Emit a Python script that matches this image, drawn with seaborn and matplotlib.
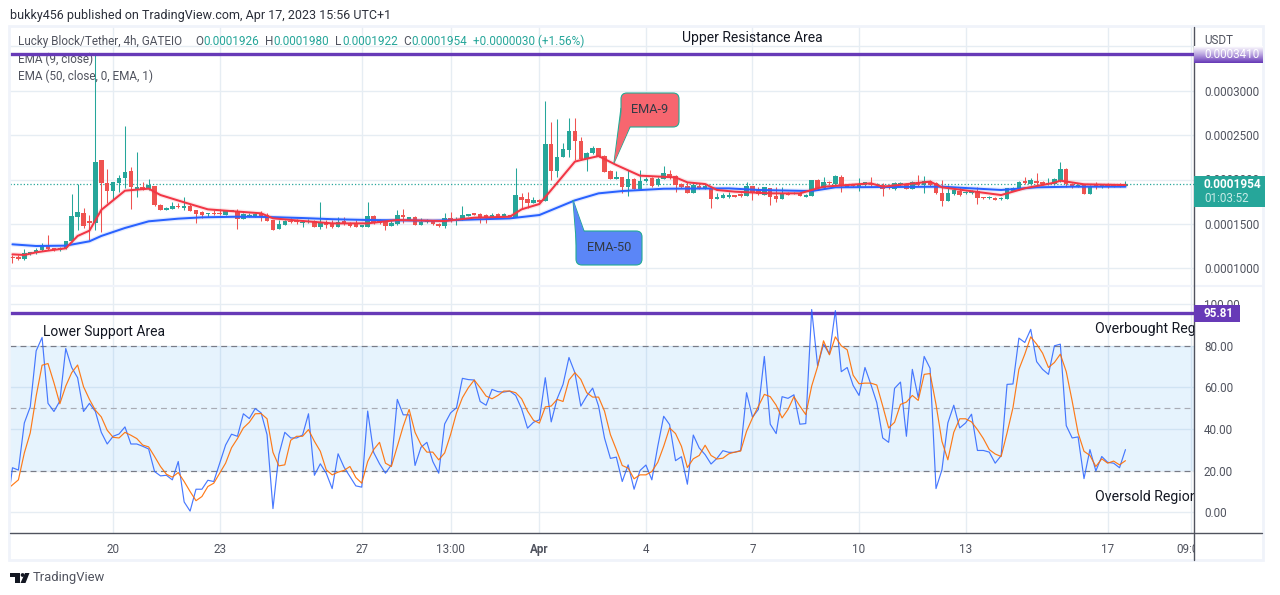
import numpy as np
import pandas as pd
import seaborn as sns
import matplotlib
matplotlib.use("Agg")
import matplotlib.pyplot as plt
from matplotlib.colors import LinearSegmentedColormap
from matplotlib.patches import FancyBboxPatch, Polygon, Rectangle, Circle
from matplotlib.transforms import Bbox

# candle values, in units of 0.0001 USDT
opens = [1.123,1.112,1.108,1.161,1.169,1.206,1.251,1.225,1.206,1.225,
         1.304,1.581,1.619,1.533,1.514,2.220,1.964,1.874,1.964,2.017,
         2.096,1.889,1.912,1.897,1.927,1.713,1.660,1.672,1.702,1.683,
         1.702,1.657,1.634,1.608,1.619,1.619,1.604,1.645,1.642,1.559,
         1.581,1.589,1.619,1.604,1.544,1.446,1.491,1.529,1.529,1.510,
         1.518,1.536,1.469,1.514,1.514,1.469,1.532,1.499,1.495,1.469,
         1.469,1.589,1.536,1.521,1.480,1.495,1.596,1.547,1.581,1.491,
         1.521,1.529,1.499,1.476,1.562,1.536,1.551,1.592,1.611,1.608,
         1.600,1.581,1.608,1.581,1.600,1.581,1.803,1.780,1.731,1.769,
         1.758,2.400,2.096,2.249,2.332,2.546,2.437,2.234,2.294,2.355,
         2.264,2.096,2.009,2.024,1.919,2.009,1.897,1.979,2.020,1.934,
         2.009,2.058,2.039,1.949,1.927,1.852,1.927,1.908,1.900,1.784,
         1.792,1.807,1.825,1.837,1.818,1.927,1.882,1.825,1.901,1.818,
         1.780,1.852,1.837,1.852,1.807,1.814,1.994,1.901,1.976,1.946,
         2.032,1.919,1.934,1.912,1.934,1.949,1.938,1.938,1.919,1.889,
         1.938,1.946,1.897,1.972,1.938,1.987,1.964,1.852,1.758,1.837,
         1.874,1.844,1.844,1.871,1.799,1.788,1.795,1.777,1.780,1.874,
         1.889,1.976,1.946,1.987,1.976,1.946,1.949,1.987,2.118,1.949,
         1.919,1.938,1.840,1.938,1.912,1.946,1.946,1.942,1.926]
highs = [1.150,1.150,1.214,1.180,1.225,1.281,1.375,1.225,1.236,1.311,
         1.837,1.946,1.675,1.600,3.410,2.220,2.114,1.972,2.051,2.603,
         2.145,2.310,1.972,2.006,1.927,1.724,1.694,1.750,1.739,1.799,
         1.724,1.657,1.649,1.627,1.657,1.664,1.657,1.657,1.664,1.619,
         1.619,1.627,1.642,1.619,1.544,1.544,1.544,1.563,1.551,1.544,
         1.551,1.544,1.747,1.544,1.544,1.581,1.581,1.525,1.544,1.480,
         1.746,1.600,1.551,1.544,1.544,1.656,1.664,1.581,1.589,1.562,
         1.551,1.544,1.514,1.626,1.634,1.581,1.701,1.611,1.611,1.619,
         1.611,1.626,1.619,1.619,1.604,2.126,1.844,1.863,1.807,1.780,
         2.884,2.651,2.677,2.407,2.689,2.689,2.482,2.306,2.377,2.355,
         2.276,2.107,2.099,2.032,2.107,2.013,2.107,2.032,2.032,2.032,
         2.152,2.107,2.050,1.957,1.968,1.975,1.957,1.945,1.912,1.844,
         1.844,1.863,1.825,1.844,1.976,1.927,1.912,1.919,1.908,1.912,
         1.912,1.855,1.859,1.856,1.833,1.994,2.006,2.032,1.980,2.047,
         2.051,1.946,1.946,2.013,1.972,2.032,1.957,1.957,1.934,1.972,
         1.972,1.957,1.983,2.051,2.039,1.994,1.972,1.994,1.938,1.919,
         1.919,1.874,1.882,1.919,1.807,1.814,1.803,1.799,1.901,1.915,
         1.987,2.032,2.013,2.077,1.983,2.013,2.013,2.197,2.125,1.957,
         1.945,1.946,1.938,1.976,1.949,1.957,1.953,1.957,1.980]
lows = [1.063,1.093,1.093,1.150,1.161,1.199,1.206,1.199,1.199,1.214,
        1.296,1.431,1.450,1.319,1.431,1.413,1.739,1.769,1.863,1.901,
        1.672,1.807,1.882,1.882,1.702,1.657,1.657,1.664,1.675,1.657,
        1.642,1.506,1.563,1.574,1.600,1.600,1.597,1.640,1.446,1.551,
        1.574,1.581,1.536,1.529,1.431,1.439,1.484,1.514,1.499,1.469,
        1.510,1.461,1.446,1.458,1.450,1.469,1.487,1.461,1.461,1.469,
        1.469,1.499,1.499,1.431,1.476,1.487,1.506,1.544,1.484,1.487,
        1.506,1.484,1.461,1.454,1.521,1.491,1.544,1.589,1.604,1.514,
        1.514,1.574,1.574,1.577,1.577,1.581,1.671,1.675,1.731,1.731,
        1.758,1.994,2.032,2.249,2.257,2.219,2.219,2.096,2.287,2.249,
        2.084,2.002,2.002,1.852,1.818,1.889,1.889,1.972,1.919,1.927,
        2.002,2.009,1.863,1.900,1.844,1.844,1.897,1.897,1.683,1.776,
        1.788,1.795,1.807,1.807,1.814,1.769,1.825,1.822,1.713,1.750,
        1.777,1.825,1.833,1.814,1.803,1.814,1.889,1.889,1.950,1.938,
        1.863,1.912,1.919,1.874,1.927,1.919,1.930,1.814,1.893,1.882,
        1.930,1.889,1.889,1.927,1.844,1.927,1.837,1.702,1.754,1.829,
        1.818,1.837,1.837,1.724,1.785,1.781,1.766,1.770,1.777,1.866,
        1.882,1.949,1.938,1.938,1.938,1.938,1.938,1.976,1.912,1.904,
        1.912,1.837,1.837,1.897,1.905,1.904,1.912,1.912,1.922]
closes = [1.112,1.108,1.169,1.180,1.206,1.251,1.217,1.206,1.229,1.304,
          1.589,1.634,1.476,1.514,2.197,1.964,1.874,1.972,2.017,2.084,
          1.912,1.919,1.897,1.938,1.717,1.660,1.679,1.702,1.687,1.702,
          1.649,1.612,1.604,1.623,1.612,1.612,1.645,1.649,1.559,1.612,
          1.600,1.612,1.589,1.536,1.431,1.499,1.533,1.521,1.521,1.525,
          1.533,1.469,1.506,1.484,1.469,1.525,1.499,1.480,1.469,1.480,
          1.589,1.506,1.506,1.480,1.506,1.596,1.574,1.577,1.491,1.525,
          1.536,1.495,1.476,1.562,1.529,1.551,1.596,1.611,1.604,1.562,
          1.581,1.604,1.581,1.608,1.581,1.825,1.769,1.735,1.765,1.750,
          2.400,2.096,2.249,2.340,2.546,2.433,2.227,2.294,2.351,2.257,
          2.088,2.009,2.032,1.919,2.002,1.897,1.979,2.002,1.927,2.009,
          2.069,2.024,1.934,1.919,1.852,1.934,1.904,1.927,1.784,1.807,
          1.822,1.818,1.807,1.814,1.927,1.844,1.837,1.912,1.807,1.784,
          1.833,1.829,1.852,1.818,1.825,1.994,1.901,1.976,1.957,2.039,
          1.927,1.938,1.927,1.938,1.972,1.938,1.946,1.889,1.901,1.957,
          1.964,1.897,1.976,1.938,1.979,1.938,1.844,1.758,1.844,1.882,
          1.825,1.863,1.871,1.788,1.792,1.807,1.773,1.792,1.901,1.901,
          1.976,1.964,1.994,1.964,1.949,1.964,2.002,2.118,1.946,1.919,
          1.938,1.840,1.927,1.912,1.938,1.919,1.919,1.919,1.954]

ema9_bars = [0,2,4,6,9,11,13,15,19,23,25,29,33,36,42,44,49,54,60,65,73,78,84,86,89,91,95,96,99,
             102,106,112,114,117,119,122,128,133,137,141,145,147,155,157,167,171,176,177,181,188]
ema9_vals = [1.157,1.150,1.180,1.199,1.225,1.364,1.424,1.657,1.874,1.897,1.825,1.743,1.664,1.649,
             1.619,1.563,1.533,1.506,1.506,1.544,1.532,1.570,1.581,1.664,1.724,1.882,2.201,2.219,
             2.264,2.163,2.043,2.024,1.968,1.949,1.882,1.863,1.844,1.844,1.919,1.938,1.957,1.919,
             1.976,1.912,1.825,1.901,1.964,1.987,1.946,1.938]
ema50_bars = [0,4,9,13,15,19,23,28,32,38,43,49,54,60,71,84,89,95,99,103,110,121,126,135,139,157,167,173,179,188]
ema50_vals = [1.270,1.251,1.255,1.304,1.364,1.454,1.529,1.559,1.574,1.581,1.578,1.566,1.553,1.544,
              1.536,1.562,1.600,1.765,1.844,1.870,1.896,1.900,1.882,1.870,1.912,1.919,1.882,1.912,
              1.919,1.919]

# stochastic, the first point sits just left of the visible pane
stoch_k = [0,21.4,20.3,42.9,50.6,77.5,83.9,52.3,48.4,53.4,78.6,69.5,64.6,48.4,52.3,48.4,38.4,32.8,36.5,37.6,41,
           32.8,32.8,31.7,30.4,19.6,17.5,17.8,15.6,24.4,5,0.6,11.1,11.1,15.4,14.8,23.6,32.3,37.5,36.5,47.3,
           45,49.8,47.7,37.3,1.8,27.7,38.4,35.7,35.7,37.1,47.3,17.8,23.3,18.8,11.4,28.1,21.7,17.2,12.7,12.1,
           48.6,28.8,23.3,18.8,22.8,54.2,46.8,46.8,22.5,31.2,33.6,24.4,
           18.8,42.4,47.7,50.2,64.3,63.7,63.5,53.2,51.4,59,57.9,57.7,58.2,56.1,49.7,40.4,43.2,44.4,64.6,
           43.4,54.5,61.4,74.3,67,51,55.8,59.6,51,35.7,25.9,26.5,14.8,22.8,11.1,20.1,22.7,15.6,31.7,
           46.1,42.1,24.8,26.7,13.5,37.1,30.9,27.7,23.2,25.9,29.6,28.8,28.8,29.7,57.4,45.7,49.4,74.8,42.3,37.8,
           55.5,54.7,56.4,42.3,42.6,97.3,70.3,80.7,75.9,96.8,67.5,69.5,60.9,56.1,
           69.5,61.4,52.6,35.7,33.6,59.5,62.5,36.5,68.6,55,74.8,69.1,11.4,20.4,42.9,51.4,40.5,42.9,47.1,
           29.7,29.7,28.9,23.6,27.2,61.4,61.6,83.6,81.5,87.8,72.3,68.6,66.2,79.9,80.7,41.6,35.7,36.2,16.2,
           30.1,19.9,26.8,24,23.6,21.4,30.1]
stoch_d = [10.8,13.2,15.6,28.5,38.1,55.8,70.6,71.4,62.2,52.1,60.6,67,70.7,60.3,54.2,49,45.8,39.4,36,35.7,38.4,
           37,35.4,32.3,31.4,26.8,22,18.3,16.9,19.1,14.8,10,5.6,7.6,12.4,14,18.8,23.6,31,35.4,40.5,
           43.2,47.3,47.4,44.9,28.8,22.3,22.8,34.6,36.5,36.5,39.7,34.1,29.3,20.4,18,19.3,20.1,22,16.7,14,
           24.4,30.1,33.6,23.6,22,31.7,41.3,49.4,38.4,32.5,28.9,28.9,
           25.2,28.5,37.3,47.7,55,59.8,63.5,59.8,55.8,54.5,56.1,58.2,58.2,57.4,54.5,48.6,44.2,42.8,50.6,
           51,54.2,53.2,63.5,67,63.8,57.4,55.3,55.3,48.6,37.3,30.1,22.5,21.2,16.1,18,18,19.6,24,31.7,
           40.5,37.8,31.7,21.5,25.7,27.3,32.2,27.3,25.6,26,28.1,28.9,29.4,38.9,45.3,51,56.6,55.5,51.4,45.3,
           49.4,55.5,51,46.9,60.6,69.9,82.3,75.6,84.2,79.9,78,65.8,61.7,
           62,62,61.1,51,40.5,43.2,51.8,52.9,56.1,53.7,66.2,66.6,51.8,34.1,25.2,38.4,44.9,44.9,43.4,
           39.7,35.4,30.1,28,26.8,38.1,50.2,68.6,75.9,84.2,80.7,76.4,69.5,71.9,75.9,67.5,53.4,38.1,29.3,
           27.3,22,25.7,23.6,24.6,22.8,24.8]

date_ticks = [17, 35, 59, 74, 89, 107, 125, 143, 161, 185, 199]
date_labels = ["20", "23", "27", "13:00", "Apr", "4", "7", "10", "13", "17", "09:00"]
price_ticks = [1.0, 1.5, 2.0, 2.5, 3.0, 3.5]
stoch_ticks = [0, 20, 40, 60, 80, 100]
resistance = 3.41
stoch_level = 95.81
last_close = 1.954

UP = "#26a69a"
DOWN = "#ef5350"
PURPLE = "#673ab7"
GRID = "#e6edf3"
AXIS_TEXT = "#50535e"
W, H = 1280, 595

sns.set_theme(style="white")
plt.rcParams["font.family"] = ["Roboto", "DejaVu Sans"]

fig = plt.figure(figsize=(W / 100, H / 100), dpi=100, facecolor="white")


def pane(x0, y0, x1, y1):
    return fig.add_axes([x0 / W, 1 - y1 / H, (x1 - x0) / W, (y1 - y0) / H])


ax_p = pane(10, 27, 1194, 285)
ax_s = pane(10, 286, 1194, 533)
over = fig.add_axes([0, 0, 1, 1], facecolor="none")
over.set_axis_off()

for ax in (ax_p, ax_s):
    ax.set_xlim(-0.42, 199.58)
    ax.set_xticks(date_ticks)
    ax.grid(True, color=GRID, lw=1)
    ax.set_axisbelow(True)
    ax.yaxis.tick_right()
    ax.tick_params(length=0, labelsize=8.4, colors=AXIS_TEXT, pad=7.2)
    sns.despine(ax=ax, left=True, bottom=True, right=True, top=True)

# price pane
candles = pd.DataFrame({"open": opens, "high": highs, "low": lows, "close": closes})
candles["bar"] = candles.index
candles["color"] = np.where(candles["close"] >= candles["open"], UP, DOWN)
body = (candles["close"] - candles["open"]).abs().clip(lower=0.014)
ax_p.vlines(candles["bar"], candles["low"], candles["high"], colors=candles["color"], lw=0.75, zorder=3)
ax_p.bar(candles["bar"], body, bottom=candles[["open", "close"]].min(axis=1), width=0.76,
         color=candles["color"], linewidth=0, zorder=3)
ax_p.axhline(last_close, color=UP, ls=":", lw=0.9, zorder=2)

for bars, vals, col in ((ema50_bars, ema50_vals, "#2962ff"), (ema9_bars, ema9_vals, "#f23645")):
    sns.lineplot(x=bars, y=vals, ax=ax_p, color=col, lw=3.2, alpha=0.12, zorder=4, errorbar=None)
    sns.lineplot(x=bars, y=vals, ax=ax_p, color=col, lw=1.45, zorder=5, errorbar=None)

ax_p.axhline(resistance, color=PURPLE, lw=2.4, zorder=6)
ax_p.set_ylim(3 - (285 - 90.7) / 88.8, 3 + (90.7 - 27) / 88.8)
ax_p.set_yticks(price_ticks)
ax_p.set_yticklabels([f"{v / 10000:.7f}" if v < 3.5 else "" for v in price_ticks])
ax_p.tick_params(axis="x", labelbottom=False)
ax_p.set_xlabel("")
ax_p.set_ylabel("")

# stochastic pane
ax_s.axhspan(20, 80, color="#2196f3", alpha=0.11, lw=0, zorder=1)
for level, col in ((80, "#787b86"), (50, "#a9acb5"), (20, "#787b86")):
    ax_s.axhline(level, color=col, lw=0.85, ls=(0, (5, 3.5)), zorder=2)
stoch = pd.DataFrame({"bar": np.arange(len(stoch_k)) - 1, "k": stoch_k, "d": stoch_d})
ax_s.axhline(stoch_level, color=PURPLE, lw=2.4, zorder=3)
sns.lineplot(data=stoch, x="bar", y="k", ax=ax_s, color="#2962ff", lw=0.85, alpha=0.85, zorder=4, errorbar=None)
sns.lineplot(data=stoch, x="bar", y="d", ax=ax_s, color="#ff6d00", lw=0.85, alpha=0.9, zorder=5, errorbar=None)
ax_s.set_ylim(-9.9, 108.6)
ax_s.set_yticks(stoch_ticks)
ax_s.set_yticklabels([f"{v:.2f}" for v in stoch_ticks])
ax_s.set_xticklabels(date_labels)
ax_s.set_xlabel("")
ax_s.set_ylabel("")

# nothing on the bottom axis runs past the price scale
clip_right = Bbox([[0, 0], [1194, H]])
for lab in ax_s.get_xticklabels():
    lab.set_clip_box(clip_right)
    lab.set_clip_on(True)
    if lab.get_text() == "Apr":
        lab.set_fontweight("bold")

# frame, scale lines and everything in pixel space
over.set_xlim(0, W)
over.set_ylim(H, 0)
over.add_patch(Rectangle((9, 26), 1254, 534, fill=False, ec="#f0f3fa", lw=2))
over.plot([10, 1262], [285.5, 285.5], color="#f0f3fa", lw=1.5)
over.plot([10, 1262], [533, 533], color=AXIS_TEXT, lw=1)
over.plot([1194, 1194], [27, 560], color=AXIS_TEXT, lw=1)

over.text(10, 15, "bukky456 published on TradingView.com, Apr 17, 2023 15:56 UTC+1",
          fontsize=9, color="#2a2e39", va="center")


def legend_text(x, y, s, col=AXIS_TEXT):
    ax_p.text(x, y, s, transform=over.transData, fontsize=8.5, color=col, va="center", zorder=5.5, clip_on=False)


legend_text(18, 41.5, "Lucky Block/Tether, 4h, GATEIO")
for x, s in ((195, "O"), (265, "H"), (335, "L"), (403, "C")):
    legend_text(x, 41.5, s)
for x, s in ((203, "0.0001926"), (273, "0.0001980"), (342, "0.0001922"), (411, "0.0001954"),
             (473, "+0.0000030 (+1.56%)")):
    legend_text(x, 41.5, s, UP)
legend_text(18, 59.5, "EMA (9, close)")
legend_text(18, 76, "EMA (50, close, 0, EMA, 1)")
legend_text(18, 301, "Stoch (14, 1, 3)")

over.text(682, 38, "Upper Resistance Area", fontsize=10, color="#131722", va="center")
over.text(43, 332, "Lower Support Area", fontsize=10, color="#131722", va="center")
for y, s in ((329, "Overbought Region"), (497, "Oversold Region")):
    t = over.text(1095, y, s, fontsize=10.2, color="#131722", va="center")
    t.set_clip_box(clip_right)
    t.set_clip_on(True)

over.text(1204, 41, "USDT", fontsize=8.4, color=AXIS_TEXT, va="center")

# resistance label fades to white at the top
fade = LinearSegmentedColormap.from_list("fade", ["#ffffff", "#b9a3e0", PURPLE])
over.imshow(np.linspace(0, 1, 32).reshape(-1, 1), cmap=fade, aspect="auto", extent=(1194, 1263, 63, 46), zorder=3)
over.set_xlim(0, W)
over.set_ylim(H, 0)
over.text(1204, 55, "0.0003410", fontsize=8.4, color="white", va="center", zorder=4)

over.add_patch(Rectangle((1194, 305), 46, 17, fc=PURPLE, ec="none", zorder=3))
over.text(1204, 313.5, "95.81", fontsize=8.4, color="white", fontweight="bold", va="center", zorder=4)

over.add_patch(Rectangle((1194, 176), 71, 31, fc=UP, ec="none", zorder=3))
over.text(1204, 185, "0.0001954", fontsize=8.6, color="white", fontweight="bold", va="center", zorder=4)
over.text(1204, 198, "01:03:52", fontsize=8.4, color="#c8ebe7", va="center", zorder=4)

# callouts
over.add_patch(Polygon([(614, 163), (621, 108), (630, 127)], closed=True, fc="#f7666f", ec="#22ab94", lw=0.8, zorder=3))
over.add_patch(FancyBboxPatch((621, 93), 58, 34, boxstyle="round,pad=0,rounding_size=6",
                              fc="#f7666f", ec="#22ab94", lw=0.8, zorder=3))
over.add_patch(Polygon([(614, 163), (622, 110), (630, 126)], closed=True, fc="#f7666f", ec="none", zorder=3))
over.text(650, 109.5, "EMA-9", fontsize=9.2, color="#333a45", ha="center", va="center", zorder=4)

over.add_patch(Polygon([(573, 200), (576.5, 245), (584, 231)], closed=True, fc="#5b86f7", ec="#22ab94", lw=0.8, zorder=3))
over.add_patch(FancyBboxPatch((576, 231), 66, 34, boxstyle="round,pad=0,rounding_size=6",
                              fc="#5b86f7", ec="#22ab94", lw=0.8, zorder=3))
over.add_patch(Polygon([(573, 200), (577, 244), (584, 232)], closed=True, fc="#5b86f7", ec="none", zorder=3))
over.text(609, 247.5, "EMA-50", fontsize=9.2, color="#333a45", ha="center", va="center", zorder=4)

# TradingView mark
over.add_patch(Polygon([(10, 573), (20, 573), (20, 583), (15, 583), (15, 577), (10, 577)], closed=True, fc="#131722", ec="none"))
over.add_patch(Circle((22.6, 575), 1.9, fc="#131722", ec="none"))
over.add_patch(Polygon([(25, 573), (29.5, 573), (25.5, 583), (20.5, 583)], closed=True, fc="#131722", ec="none"))
over.text(33, 577.5, "TradingView", fontsize=9.4, color=AXIS_TEXT, va="center")

fig.savefig("out.png", dpi=100)
